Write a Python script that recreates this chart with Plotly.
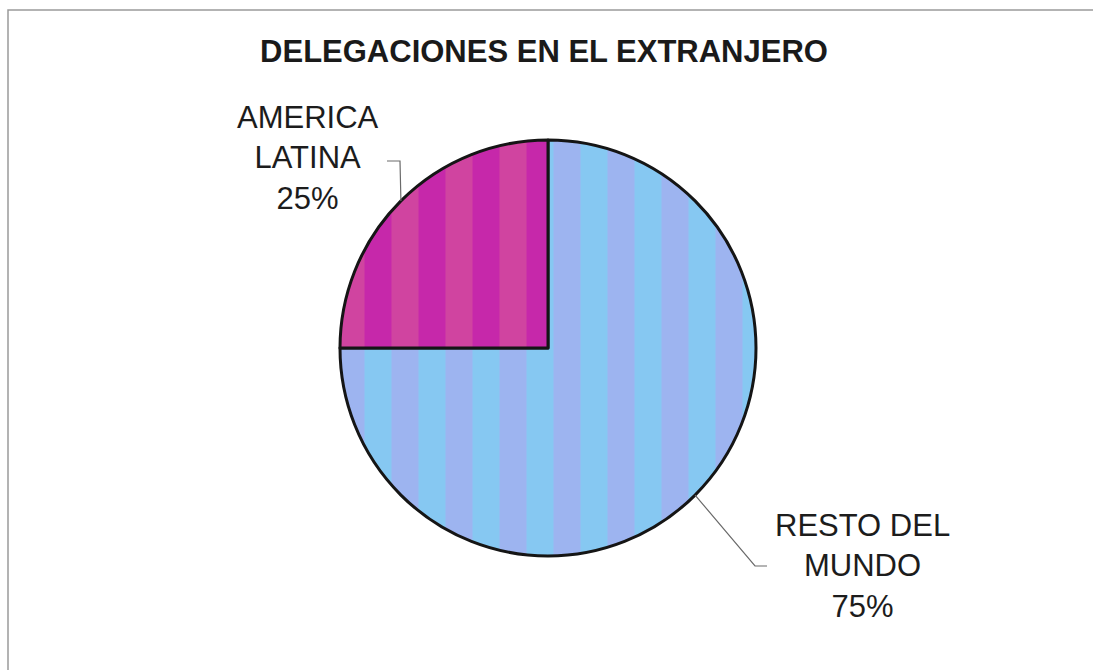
import math
import plotly.graph_objects as go

# Data
regions = ["RESTO DEL<br>MUNDO", "AMERICA<br>LATINA"]
shares = [75, 25]
title_text = "DELEGACIONES EN EL EXTRANJERO"

# Page geometry (pixels)
W, H = 1093, 670
cx, cy, r = 548, 348, 208  # pie centre and radius


def px(x):
    return x / W


def py(y):
    return 1 - y / H


fill_bg = ["#86c8f2", "#c628aa"]
fill_fg = ["#b0a4ee", "#d85a96"]

fig = go.Figure(
    go.Pie(
        labels=regions,
        values=shares,
        sort=False,
        direction="clockwise",
        rotation=0,
        textinfo="none",
        hoverinfo="label+percent",
        showlegend=False,
        marker=dict(
            colors=fill_bg,
            line=dict(color="#151515", width=3),
            pattern=dict(
                shape="|",
                bgcolor=fill_bg,
                fgcolor=fill_fg,
                fgopacity=0.55,
                size=54,
                solidity=0.5,
            ),
        ),
        domain=dict(x=[px(cx - r), px(cx + r)], y=[py(cy + r), py(cy - r)]),
    )
)

# Slice labels with leader lines from each slice's mid-angle
total = sum(shares)
start = 0.0
label_font = dict(family="Liberation Sans, Arial, sans-serif", size=31, color="#1c1c1c")
# label centres and elbow geometry for each slice
label_pos = [(862, 566), (308, 158)]
elbows = [[(755, 566), (767, 566)], [(400, 161), (387, 161)]]
shapes = []
annotations = []
for i, (lab, v) in enumerate(zip(regions, shares)):
    mid = start + v / total * 360 / 2
    start += v / total * 360
    ang = math.radians(mid)
    ex = cx + r * math.sin(ang)
    ey = cy - r * math.cos(ang)
    pts = [(ex, ey)] + elbows[i]
    path = "M " + " L ".join(f"{px(x)},{py(y)}" for x, y in pts)
    shapes.append(dict(type="path", xref="paper", yref="paper", path=path,
                       line=dict(color="#6a6a6a", width=1.2)))
    pct = round(v / total * 100)
    annotations.append(dict(
        x=px(label_pos[i][0]), y=py(label_pos[i][1]), xref="paper", yref="paper",
        text=f"{lab}<br>{pct}%", showarrow=False, align="center",
        xanchor="center", yanchor="middle", font=label_font,
    ))

# Chart frame (top and left edges visible)
shapes.append(dict(type="rect", xref="paper", yref="paper",
                   x0=px(8), x1=1.02, y0=-0.02, y1=py(10),
                   line=dict(color="#9a9a9a", width=1.5), layer="below"))

fig.update_layout(
    width=W, height=H,
    margin=dict(l=0, r=0, t=0, b=0),
    paper_bgcolor="white",
    plot_bgcolor="white",
    title=dict(text=f"<b>{title_text}</b>", x=px(544), y=py(51),
               xanchor="center", yanchor="middle",
               font=dict(family="Liberation Sans, Arial, sans-serif", size=31, color="#1a1a1a")),
    shapes=shapes,
    annotations=annotations,
)

fig.write_html("out.html")
